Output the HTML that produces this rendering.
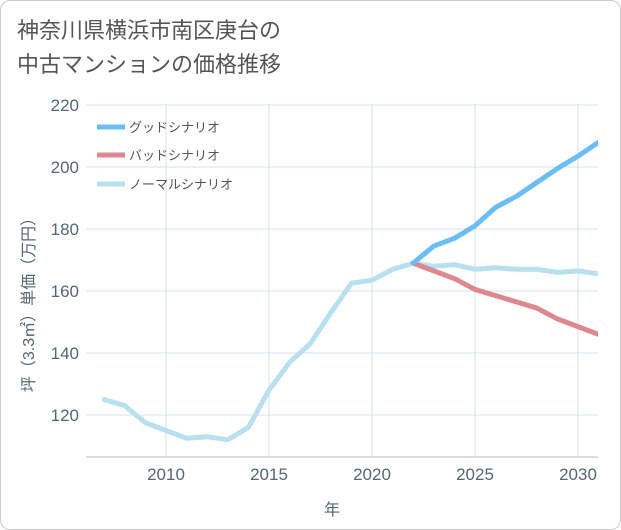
<!DOCTYPE html>
<html><head><meta charset="utf-8"><style>
body{margin:0;background:#fff;}
#wrap{position:relative;width:619px;height:528px;border:1px solid #ccc;border-radius:10px;overflow:hidden;font-family:"Liberation Sans","Noto Sans CJK JP",sans-serif;}
#title{position:absolute;left:16px;top:13px;font-size:22px;line-height:34px;color:#555;}
</style></head><body>
<div id="wrap">
<div id="title">神奈川県横浜市南区庚台の<br>中古マンションの価格推移</div>
<svg id="chart" width="621" height="530" style="position:absolute;left:0;top:0"></svg>
</div>
<script>
const years=[2007,2008,2009,2010,2011,2012,2013,2014,2015,2016,2017,2018,2019,2020,2021,2022,2023,2024,2025,2026,2027,2028,2029,2030,2031];
const normal=[125,123,117.5,115,112.5,113,112,116,128,137,143,153,162.5,163.5,167,169,168,168.5,167,167.5,167,167,166,166.5,165.5];
const fYears=[2022,2023,2024,2025,2026,2027,2028,2029,2030,2031];
const good=[169,174.5,177,181,187,190.5,195,199.5,203.5,208];
const bad=[169,166.5,164,160.5,158.5,156.5,154.5,151,148.5,146];
const xTicks=[2010,2015,2020,2025,2030];
const yTicks=[120,140,160,180,200,220];
const NS="http://www.w3.org/2000/svg";
const svg=document.getElementById('chart');
const L=85,R=597,T=103,B=456;
const x=v=>165+(v-2010)*20.6;
const y=v=>104+(220-v)*3.1;
function el(t,a,p){const e=document.createElementNS(NS,t);for(const k in a)e.setAttribute(k,a[k]);(p||svg).appendChild(e);return e;}
const defs=el('defs',{});
const cp=el('clipPath',{id:'plotclip'},defs);
el('rect',{x:L,y:T-5,width:R-L,height:B-T+5},cp);
xTicks.forEach(t=>{const g=el('line',{x1:x(t),x2:x(t),y1:T,y2:B,stroke:'#d5e2ec','stroke-width':1});

const tx=el('text',{x:x(t),y:479,'text-anchor':'middle','font-size':17,fill:'#556677'});tx.textContent=t;
});
yTicks.forEach(t=>{const g=el('line',{x1:L,x2:R,y1:y(t),y2:y(t),stroke:'#d5e2ec','stroke-width':1});

const tx=el('text',{x:78,y:y(t)+6,'text-anchor':'end','font-size':17,fill:'#556677'});tx.textContent=t;
});
const ax=el('line',{x1:L,x2:R,y1:B,y2:B,stroke:'#bbb'});
const lg=el('g',{'clip-path':'url(#plotclip)'});
function line(xs,vs,c,n){const p=el('polyline',{points:xs.map((v,i)=>x(v)+','+y(vs[i])).join(' '),fill:'none',stroke:c,'stroke-width':5,'stroke-linejoin':'round','stroke-linecap':'round'},lg);
}
line(years,normal,'#b9e0ef','normal-line');
line(fYears,bad,'#dd8890','bad-line');
line(fYears,good,'#6bbef2','good-line');
const leg=[['グッドシナリオ','#6bbef2',126],['バッドシナリオ','#dd8890',154],['ノーマルシナリオ','#b9e0ef',183]];
leg.forEach(l=>{const s=el('line',{x1:96,x2:124,y1:l[2],y2:l[2],stroke:l[1],'stroke-width':5});

const t=el('text',{x:128,y:l[2]+5,'font-size':13,fill:'#555'});t.textContent=l[0];
});
const xt=el('text',{x:331,y:514,'text-anchor':'middle','font-size':16,fill:'#556677'});xt.textContent='年';

const yt=el('text',{x:0,y:0,'text-anchor':'middle','font-size':16,fill:'#556677',transform:'translate(33,300) rotate(-90)'});yt.textContent='坪（3.3㎡）単価（万円）';

</script>
</body></html>
